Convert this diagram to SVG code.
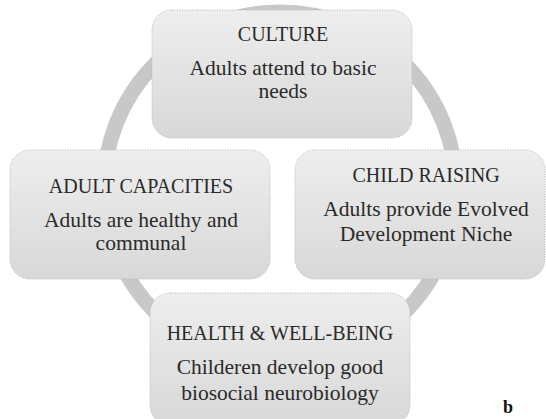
<svg xmlns="http://www.w3.org/2000/svg" width="546" height="419" viewBox="0 0 546 419">
  <defs>
    <linearGradient id="boxfill" x1="0" y1="0" x2="0" y2="1">
      <stop offset="0" stop-color="#eeeeee"/>
      <stop offset="1" stop-color="#d8d8d8"/>
    </linearGradient>
  </defs>
  <style>
    .box { fill: url(#boxfill); stroke: #b4b4b4; stroke-width: 1; stroke-dasharray: 1 1.5; }
    .title { font-family: "Liberation Serif", "DejaVu Serif", serif; font-size: 20px; fill: #2a2a2a; text-anchor: middle; }
    .body { font-family: "Liberation Serif", "DejaVu Serif", serif; font-size: 21.5px; fill: #2a2a2a; text-anchor: middle; }
    .ring { fill: none; stroke: #c8c8c8; stroke-width: 15; }
    .label { font-family: "Liberation Serif", "DejaVu Serif", serif; font-size: 18px; font-weight: bold; fill: #111; }
  </style>
  <rect width="546" height="419" fill="#ffffff"/>
  <g id="connectors">
    <circle class="ring" cx="280" cy="188" r="176"/>
  </g>
  <g id="culture">
    <rect class="box" x="152" y="10" width="260" height="128" rx="20"/>
    <text class="title" x="283" y="41">CULTURE</text>
    <text class="body" x="283" y="75">Adults attend to basic</text>
    <text class="body" x="283" y="98">needs</text>
  </g>
  <g id="adult-capacities">
    <rect class="box" x="10" y="150" width="260" height="129" rx="20"/>
    <text class="title" x="141" y="193">ADULT CAPACITIES</text>
    <text class="body" x="141" y="227">Adults are healthy and</text>
    <text class="body" x="141" y="250">communal</text>
  </g>
  <g id="child-raising">
    <rect class="box" x="295" y="150" width="250" height="129" rx="20"/>
    <text class="title" x="426" y="182">CHILD RAISING</text>
    <text class="body" x="426" y="216">Adults provide Evolved</text>
    <text class="body" x="426" y="241">Development Niche</text>
  </g>
  <g id="health-well-being">
    <rect class="box" x="150" y="293" width="260" height="132" rx="20"/>
    <text class="title" x="280" y="340">HEALTH &amp; WELL-BEING</text>
    <text class="body" x="280" y="374">Childeren develop good</text>
    <text class="body" x="280" y="400">biosocial neurobiology</text>
  </g>
  <text class="label" x="503" y="413">b</text>
</svg>
